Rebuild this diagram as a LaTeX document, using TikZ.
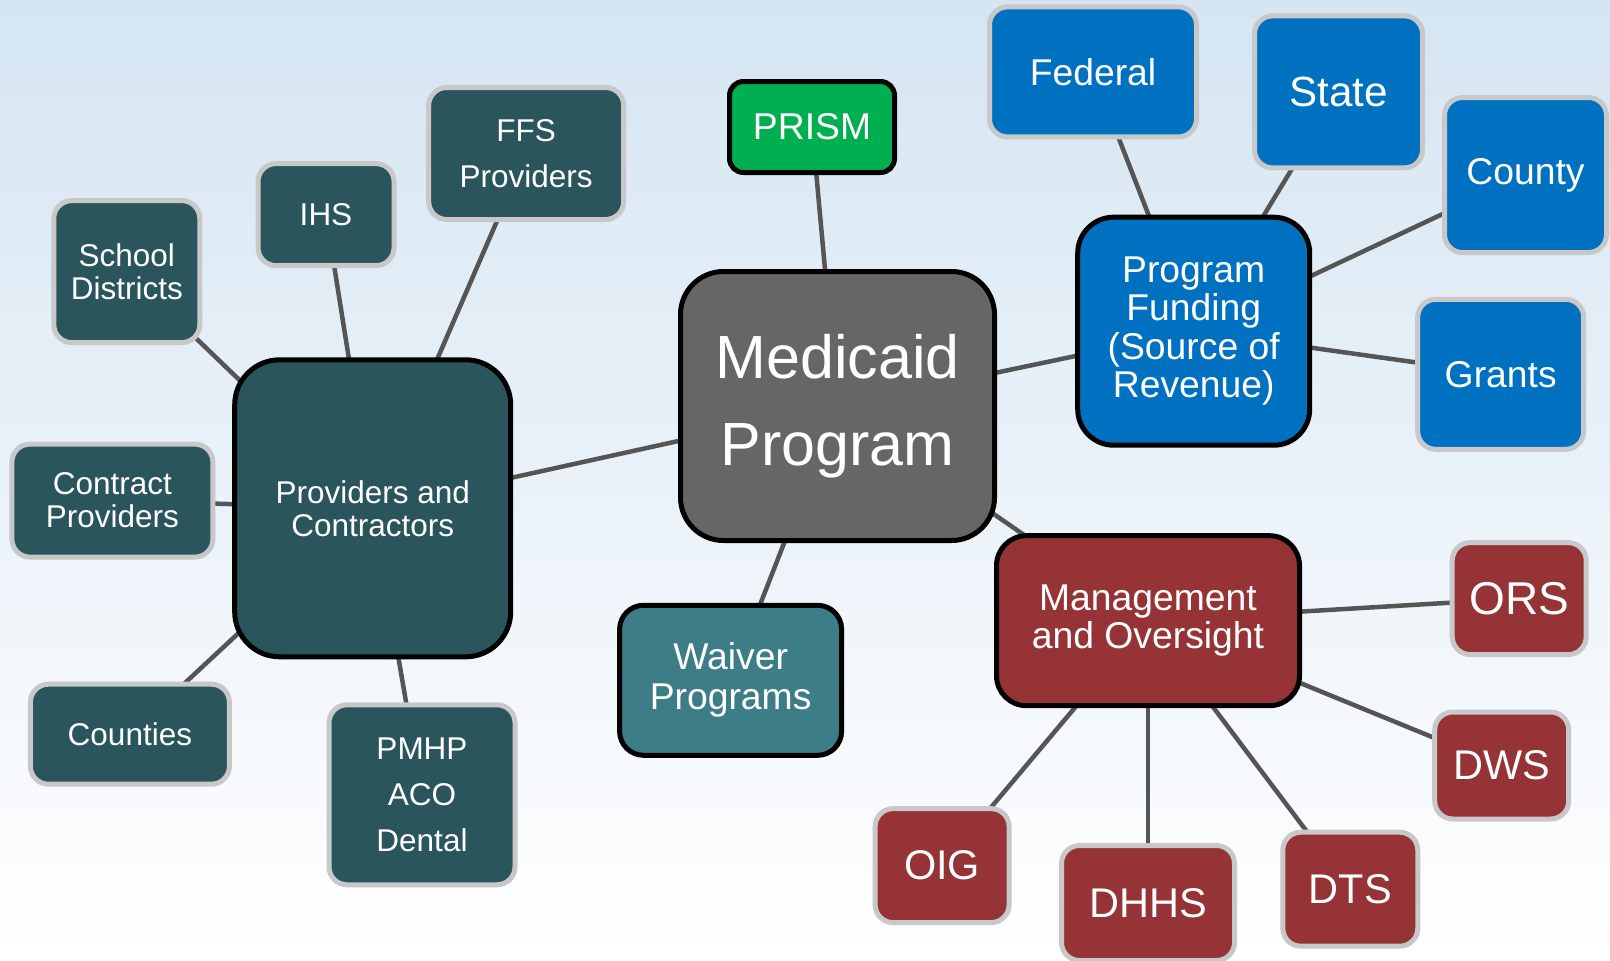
\documentclass[tikz,border=0pt]{standalone}
\usepackage{fontspec}
\setmainfont{Liberation Sans}
\definecolor{bgtop}{HTML}{D5E5F2}
\definecolor{darkteal}{HTML}{2A555C}
\definecolor{waiverteal}{HTML}{3C7D87}
\definecolor{medgray}{HTML}{666666}
\definecolor{prismgreen}{HTML}{00B050}
\definecolor{fundblue}{HTML}{0070C0}
\definecolor{mgmtred}{HTML}{953336}
\definecolor{rimgray}{HTML}{C8C8C8}
\definecolor{linkgray}{HTML}{555555}
\pgfdeclarelayer{bglayer}
\pgfdeclarelayer{edgelayer}
\pgfsetlayers{bglayer,edgelayer,main}
\begin{document}
\begin{tikzpicture}[x=1pt,y=-1pt,
  box/.style={rectangle, rounded corners=18pt, line width=5pt, text=white,
    align=center, inner sep=0pt},
  leaf/.style={box, draw=rimgray},
  hub/.style={box, draw=black},
  dims/.style 2 args={minimum width=#1pt, minimum height=#2pt},
  link/.style={draw=linkgray, line width=4.5pt},
  fsmall/.style={font=\fontsize{31.5}{33}\selectfont},
  fsmallwide/.style={font=\fontsize{31.5}{46}\selectfont},
  fmid/.style={font=\fontsize{37.3}{38.5}\selectfont},
  fbig/.style={font=\fontsize{41.5}{44}\selectfont}]
\useasboundingbox (0,0) rectangle (1610,961);
\begin{pgfonlayer}{bglayer}
  \shade[top color=bgtop, bottom color=white] (0,0) rectangle (1610,961);
\end{pgfonlayer}

% hubs
\node[hub, fill=medgray, dims={314}{269}, rounded corners=43pt,
  font=\fontsize{61}{87}\selectfont] (med) at (837.5,406) {Medicaid\\Program};
\node[hub, fill=prismgreen, dims={165}{91}, rounded corners=14pt, fmid] (prism) at (812,127) {PRISM};
\node[hub, fill=darkteal, dims={276}{297}, rounded corners=45pt, fsmall] (prov) at (372.7,508.3) {Providers and\\Contractors};
\node[hub, fill=waiverteal, dims={222}{150}, rounded corners=24pt, font=\fontsize{37.3}{40}\selectfont] (waiver) at (730.6,680.3) {Waiver\\Programs};
\node[hub, fill=fundblue, dims={232}{228}, rounded corners=36pt, fmid] (fund) at (1193.7,331.2) {Program\\Funding\\(Source of\\Revenue)};
\node[hub, fill=mgmtred, dims={303}{170}, rounded corners=30pt, fmid] (mgmt) at (1148,620.7) {Management\\and Oversight};

% provider leaves
\node[leaf, fill=darkteal, dims={146}{142}, fsmall] (school) at (126.8,271.6) {School\\Districts};
\node[leaf, fill=darkteal, dims={136}{102}, fsmall] (ihs) at (326,214.6) {IHS};
\node[leaf, fill=darkteal, dims={195}{132}, fsmallwide] (ffs) at (526.2,153.5) {FFS\\Providers};
\node[leaf, fill=darkteal, dims={201}{113}, fsmall] (contract) at (112.4,500.6) {Contract\\Providers};
\node[leaf, fill=darkteal, dims={199}{100}, fsmall] (counties) at (129.9,734.2) {Counties};
\node[leaf, fill=darkteal, dims={186}{180}, fsmallwide] (pmhp) at (422,794.8) {PMHP\\ACO\\Dental};

% funding leaves
\node[leaf, fill=fundblue, dims={207}{130}, fmid] (federal) at (1093,71.9) {Federal};
\node[leaf, fill=fundblue, dims={168}{152}, font=\fontsize{42.2}{44}\selectfont] (state) at (1338.5,91.9) {State};
\node[leaf, fill=fundblue, dims={162}{155}, fmid] (county) at (1525.5,175) {County};
\node[leaf, fill=fundblue, dims={166}{150}, fmid] (grants) at (1500.7,374.3) {Grants};

% management leaves
\node[leaf, fill=mgmtred, dims={134}{112}, font=\fontsize{46}{48}\selectfont] (ors) at (1519.2,598.6) {ORS};
\node[leaf, fill=mgmtred, dims={134}{107}, fbig] (dws) at (1501.7,765.5) {DWS};
\node[leaf, fill=mgmtred, dims={135}{114}, fbig] (dts) at (1350.3,889.2) {DTS};
\node[leaf, fill=mgmtred, dims={173}{115}, fbig] (dhhs) at (1148,903) {DHHS};
\node[leaf, fill=mgmtred, dims={134}{114}, fbig] (oig) at (942.1,865.6) {OIG};

\begin{pgfonlayer}{edgelayer}
  \draw[link] (med.center) -- (prism.center);
  \draw[link] (med.center) -- (prov.center);
  \draw[link] (med.center) -- (waiver.center);
  \draw[link] (med.center) -- (fund.center);
  \draw[link] (med.center) -- (mgmt.center);
  \draw[link] (prov.center) -- (school.center);
  \draw[link] (prov.center) -- (ihs.center);
  \draw[link] (prov.center) -- (ffs.center);
  \draw[link] (prov.center) -- (contract.center);
  \draw[link] (prov.center) -- (counties.center);
  \draw[link] (prov.center) -- (pmhp.center);
  \draw[link] (fund.center) -- (federal.center);
  \draw[link] (fund.center) -- (state.center);
  \draw[link] (fund.center) -- (county.center);
  \draw[link] (fund.center) -- (grants.center);
  \draw[link] (mgmt.center) -- (ors.center);
  \draw[link] (mgmt.center) -- (dws.center);
  \draw[link] (mgmt.center) -- (dts.center);
  \draw[link] (mgmt.center) -- (dhhs.center);
  \draw[link] (mgmt.center) -- (oig.center);
\end{pgfonlayer}
\end{tikzpicture}
\end{document}
